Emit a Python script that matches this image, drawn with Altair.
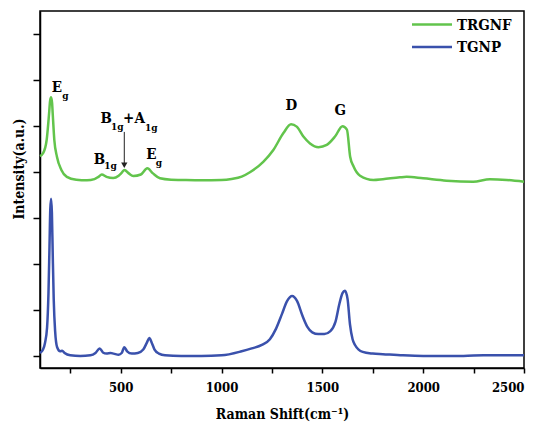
import altair as alt
import pandas as pd

FONT = "DejaVu Serif Condensed, DejaVu Serif, serif"

series = ["TRGNF", "TGNP"]
colors = ["#62c44c", "#3a51ac"]

# TGNP (blue) spectrum
bx = [100, 115, 125, 135, 142, 147, 151, 155, 159, 163, 168, 175, 185, 200, 210, 222, 250, 300, 350, 375,
      396, 412, 430, 450, 465, 490, 505, 518, 532, 555, 585, 612, 630, 642, 654, 668, 690, 720, 800, 900,
      1000, 1100, 1150, 1200, 1240, 1270, 1300, 1325, 1350, 1375, 1400, 1425, 1450, 1480, 1510, 1540, 1565, 1585, 1600, 1612,
      1625, 1637, 1650, 1662, 1680, 1700, 1750, 1800, 1900, 2000, 2100, 2200, 2300, 2400, 2500]
by = [0.3, 0.6, 1.2, 2.5, 5.5, 9.5, 12.8, 13.7, 12.5, 9.0, 5.0, 2.2, 0.8, 0.45, 0.5, 0.3, 0.1, 0.05, 0.1, 0.3,
      0.7, 0.35, 0.25, 0.3, 0.25, 0.15, 0.3, 0.8, 0.45, 0.25, 0.3, 0.6, 1.2, 1.6, 1.2, 0.6, 0.25, 0.1, 0.05, 0.05,
      0.1, 0.45, 0.7, 1.0, 1.5, 2.4, 3.7, 4.8, 5.25, 4.8, 3.6, 2.6, 2.1, 1.95, 1.95, 2.2, 3.0, 4.6, 5.5, 5.7,
      5.0, 2.8, 1.5, 1.0, 0.6, 0.4, 0.25, 0.2, 0.1, 0.05, 0.05, 0.05, 0.1, 0.1, 0.1]

# TRGNF (green) spectrum
gx = [100, 116, 133, 145, 150, 155, 160, 163, 171, 184, 206, 233, 280, 333, 370, 390, 406, 430, 463, 490,
      505, 519, 540, 563, 600, 632, 660, 695, 750, 800, 900, 1000, 1050, 1100, 1141, 1207, 1257, 1307, 1345, 1373, 1406,
      1439, 1481, 1522, 1563, 1600, 1622, 1638, 1655, 1687, 1753, 1800, 1885, 1918, 2000, 2116, 2248, 2331, 2414, 2500]
gy = [17.4, 17.67, 18.8, 21.1, 22.2, 22.5, 22.0, 21.1, 18.8, 17.35, 16.2, 15.6, 15.35, 15.3, 15.4, 15.6, 15.8, 15.6, 15.5, 15.7,
      15.95, 16.2, 15.9, 15.67, 15.8, 16.34, 15.9, 15.47, 15.35, 15.33, 15.3, 15.33, 15.42, 15.62, 16.0, 16.9, 17.93, 19.4, 20.16, 19.96, 19.1,
      18.5, 18.17, 18.37, 19.1, 20.0, 19.7, 17.35, 16.5, 15.7, 15.33, 15.4, 15.56, 15.6, 15.47, 15.27, 15.18, 15.39, 15.33, 15.18]

# peak labels (main letters and subscripts)
ann_text = ["E", "g", "B", "1g", "B", "1g", "+A", "1g", "E", "g", "D", "G"]
ann_x = [184, 226, 395, 450, 428, 483, 566, 652, 652, 690, 1346, 1589]
ann_y = [23.36, 22.62, 17.19, 16.5, 20.67, 19.93, 20.67, 19.85, 17.58, 16.8, 21.84, 21.4]
ann_size = [15, 10, 15, 10, 15, 10, 15, 10, 15, 10, 15, 15]

# arrow pointing to the B1g+A1g band
arrow_x = [518]
arrow_y_start = [19.5]
arrow_y_end = [16.8]
arrow_head_y = [16.6]

x_ticks = [250, 500, 750, 1000, 1250, 1500, 1750, 2000, 2250, 2500]
y_ticks = list(range(0, 30))

# legend layout (pixels inside the plot area)
leg_x0, leg_x1, leg_text_x = 372, 412, 417
leg_row_y = [13.5, 36]

df = pd.concat([
    pd.DataFrame({"shift": gx, "intensity": gy, "sample": "TRGNF"}),
    pd.DataFrame({"shift": bx, "intensity": by, "sample": "TGNP"}),
])
ann = pd.DataFrame({"t": ann_text, "x": ann_x, "y": ann_y, "s": ann_size})
arr = pd.DataFrame({"x": arrow_x, "y": arrow_y_start, "y2": arrow_y_end, "h": arrow_head_y})
leg = pd.DataFrame({"sample": series, "ly": leg_row_y})

xscale = alt.Scale(domain=[100, 2500], nice=False, zero=False)
yscale = alt.Scale(domain=[-1, 30], nice=False, zero=False)
cscale = alt.Scale(domain=series, range=colors)

lines = alt.Chart(df).mark_line(strokeWidth=2.5, interpolate="monotone").encode(
    x=alt.X("shift:Q", scale=xscale,
            axis=alt.Axis(values=x_ticks, format="d",
                          labelExpr="datum.value % 500 === 0 ? datum.label : ''",
                          title="Raman Shift(cm⁻¹)", tickSize=5, labelPadding=8,
                          titlePadding=13, labelOverlap=False)),
    y=alt.Y("intensity:Q", scale=yscale,
            axis=alt.Axis(values=y_ticks, labels=False, labelOverlap=False,
                          tickSize={"condition": {"test": "datum.value % 2 === 0", "value": 7}, "value": 4},
                          title="Intensity(a.u.)", titleX=-14, titleY=157.5, titleAlign="center")),
    color=alt.Color("sample:N", scale=cscale, legend=None),
    order=alt.Order("shift:Q"),
)

labels = alt.Chart(ann).mark_text(font=FONT, fontWeight="bold", color="black",
                                  align="center", baseline="middle").encode(
    x=alt.X("x:Q", scale=xscale),
    y=alt.Y("y:Q", scale=yscale),
    text="t:N",
    size=alt.Size("s:Q", scale=None, legend=None),
)

arrow_line = alt.Chart(arr).mark_rule(color="#222222", strokeWidth=1).encode(
    x=alt.X("x:Q", scale=xscale), y=alt.Y("y:Q", scale=yscale), y2="y2:Q")
arrow_head = alt.Chart(arr).mark_point(shape="triangle-down", filled=True, color="#222222",
                                       size=40, opacity=1).encode(
    x=alt.X("x:Q", scale=xscale), y=alt.Y("h:Q", scale=yscale))

leg_lines = alt.Chart(leg).mark_rule(strokeWidth=2.5).encode(
    x=alt.value(leg_x0), x2=alt.value(leg_x1),
    y=alt.Y("ly:Q", scale=None),
    color=alt.Color("sample:N", scale=cscale, legend=None),
)
leg_text = alt.Chart(leg).mark_text(font=FONT, fontWeight="bold", fontSize=15, color="black",
                                    align="left", baseline="middle").encode(
    x=alt.value(leg_text_x),
    y=alt.Y("ly:Q", scale=None),
    text="sample:N",
)

chart = alt.layer(lines, labels, arrow_line, arrow_head, leg_lines, leg_text).properties(
    width=484, height=357,
    autosize=alt.AutoSizeParams(type="none"),
    padding={"left": 32, "top": 3, "right": 7, "bottom": 59},
).configure_view(stroke="black", strokeWidth=1.5).configure_axis(
    grid=False, domainColor="black", domainWidth=1.5, tickColor="black", tickWidth=1.5,
    labelFont=FONT, labelFontSize=13, labelFontWeight="bold", labelColor="black",
    titleFont=FONT, titleFontSize=14, titleFontWeight="bold", titleColor="black",
)

chart.save("out.html", embed_options={"renderer": "svg", "actions": False})
